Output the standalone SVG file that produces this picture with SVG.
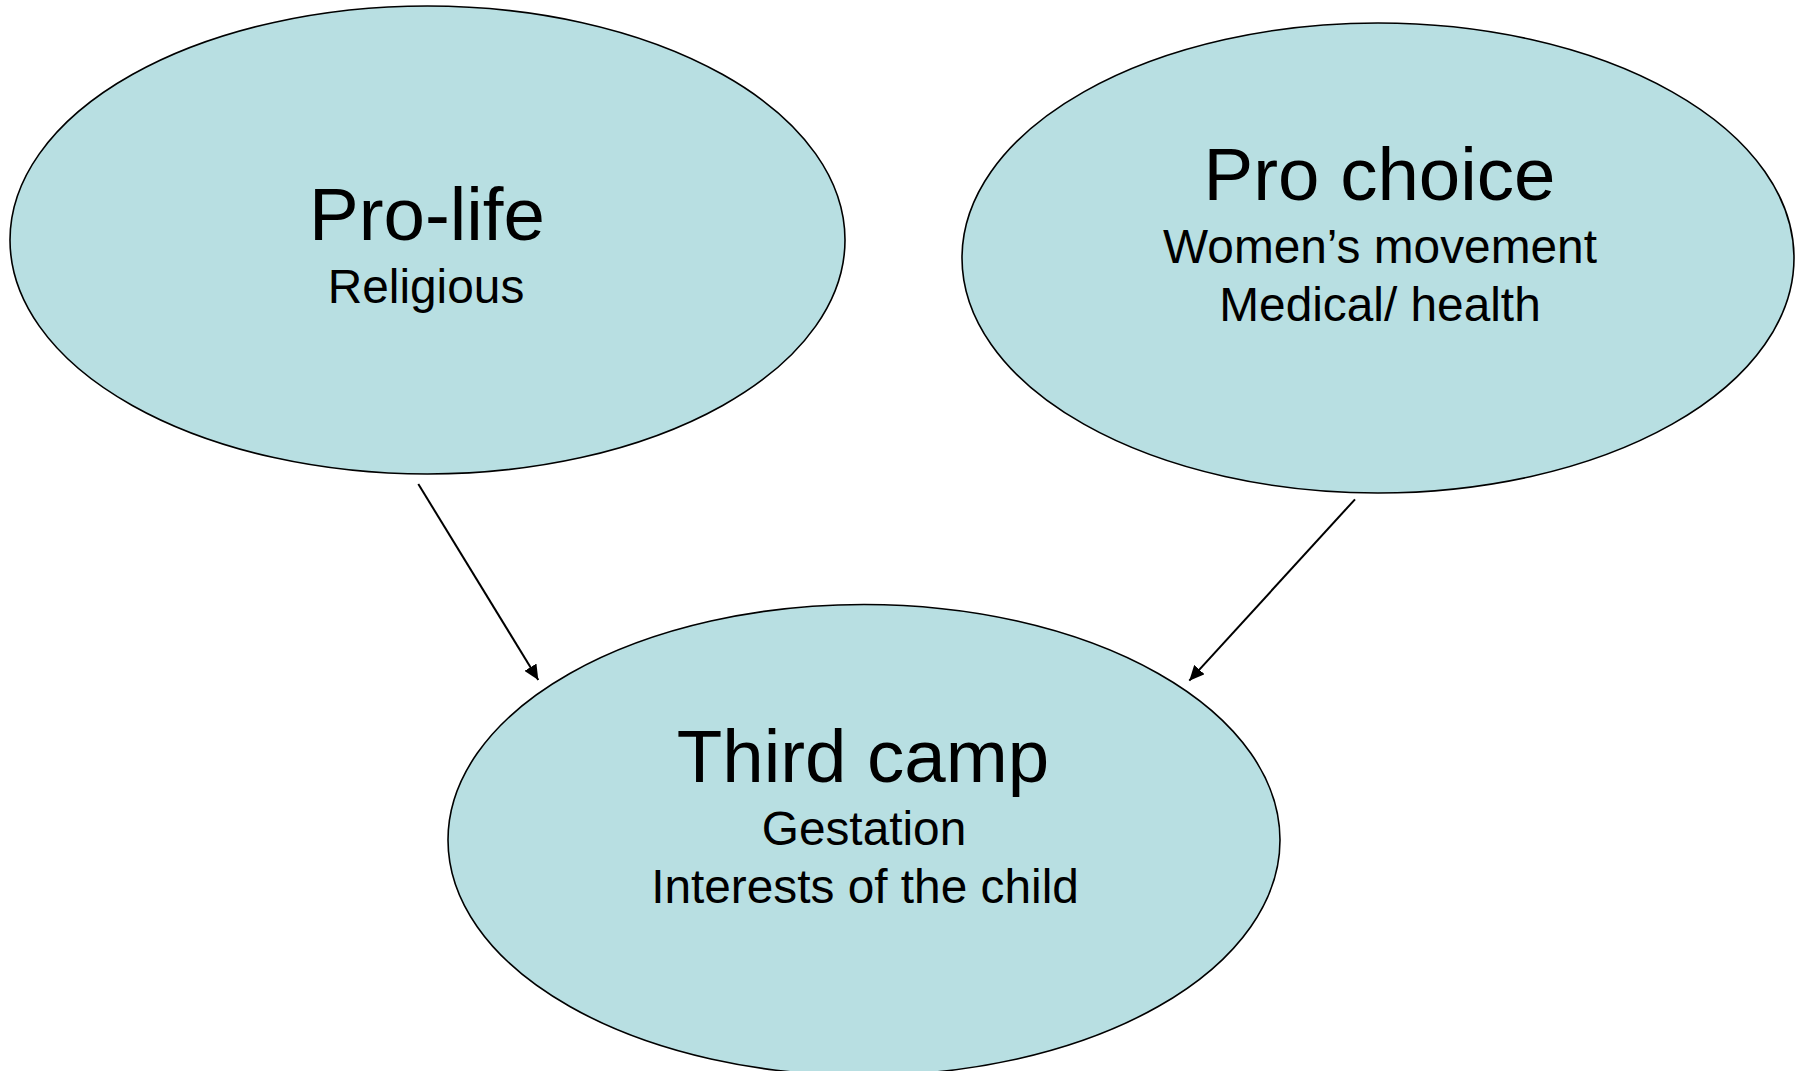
<svg xmlns="http://www.w3.org/2000/svg" width="1805" height="1071" viewBox="0 0 1805 1071">
<style>
.node{fill:#b8dfe2;stroke:#000;stroke-width:1.6}
.t{font-family:"Liberation Sans",Arial,sans-serif;fill:#000;text-anchor:middle}
.h{font-size:74.5px}
.s{font-size:47.8px}
.c{stroke:#000;stroke-width:2;fill:none;marker-end:url(#ah)}
</style>
<defs>
<marker id="ah" markerUnits="userSpaceOnUse" markerWidth="15" markerHeight="14" refX="15" refY="7" orient="auto">
<path d="M0,0 L15,7 L0,14 z" fill="#000"/>
</marker>
</defs>
<rect width="1805" height="1071" fill="#fff"/>
<g id="pro-life">
<ellipse class="node" cx="427.5" cy="240" rx="417.5" ry="234"/>
<text class="t h" x="427" y="240">Pro-life</text>
<text class="t s" x="426" y="303">Religious</text>
</g>
<g id="pro-choice">
<ellipse class="node" cx="1378" cy="258" rx="416" ry="235"/>
<text class="t h" x="1379.5" y="200">Pro choice</text>
<text class="t s" x="1380" y="262.7">Women’s movement</text>
<text class="t s" x="1380" y="320.7">Medical/ health</text>
</g>
<g id="third-camp">
<ellipse class="node" cx="864" cy="840" rx="416" ry="235.5"/>
<text class="t h" x="863" y="781.7">Third camp</text>
<text class="t s" x="864" y="845">Gestation</text>
<text class="t s" x="865" y="902.7">Interests of the child</text>
</g>
<g id="connectors">
<line class="c" x1="418.3" y1="484" x2="538.3" y2="680"/>
<line class="c" x1="1355" y1="499.3" x2="1189.3" y2="680.7"/>
</g>
</svg>
